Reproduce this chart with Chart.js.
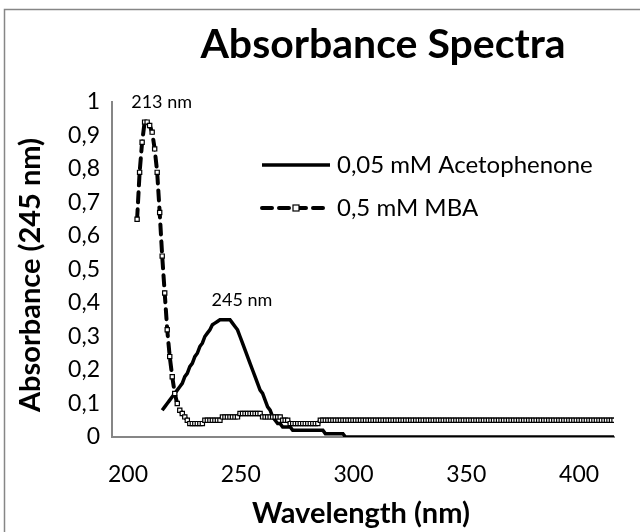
<!DOCTYPE html>
<html lang="en">
<head>
    <meta charset="UTF-8">
    <title>Absorbance Spectra</title>
    <script src="https://cdn.jsdelivr.net/npm/chart.js"></script>
    <style>
        body { margin: 0; background: #fff; }
        #spectraChart { display: block; }
    </style>
</head>
<body>
    <canvas id="spectraChart" width="640" height="532"></canvas>

    <script>
        // wavelength grid, 1 nm steps
        var wavelengths = [];
        for (var nm = 210; nm <= 400; nm++) wavelengths.push(nm);

        // 0,5 mM MBA absorbance, 210..400 nm
        var mbaValues = [
            0.65, 0.79, 0.88, 0.94, 0.94, 0.93, 0.91, 0.86, 0.79, 0.67,
            0.54, 0.43, 0.32, 0.24, 0.18, 0.13, 0.10, 0.08, 0.07, 0.06,
            0.05, 0.04, 0.04, 0.04, 0.04, 0.04, 0.04, 0.05, 0.05, 0.05,
            0.05, 0.05, 0.05, 0.05, 0.06, 0.06, 0.06, 0.06, 0.06, 0.06,
            0.06, 0.07, 0.07, 0.07, 0.07, 0.07, 0.07, 0.07, 0.07, 0.07,
            0.06, 0.06, 0.06, 0.06, 0.06, 0.06, 0.06, 0.06, 0.05, 0.05,
            0.05, 0.04, 0.04, 0.04, 0.04, 0.04, 0.04, 0.04, 0.04, 0.04,
            0.04, 0.04, 0.04, 0.05, 0.05, 0.05, 0.05, 0.05, 0.05, 0.05,
            0.05, 0.05, 0.05, 0.05, 0.05, 0.05, 0.05, 0.05, 0.05, 0.05,
            0.05, 0.05, 0.05, 0.05, 0.05, 0.05, 0.05, 0.05, 0.05, 0.05,
            0.05, 0.05, 0.05, 0.05, 0.05, 0.05, 0.05, 0.05, 0.05, 0.05,
            0.05, 0.05, 0.05, 0.05, 0.05, 0.05, 0.05, 0.05, 0.05, 0.05,
            0.05, 0.05, 0.05, 0.05, 0.05, 0.05, 0.05, 0.05, 0.05, 0.05,
            0.05, 0.05, 0.05, 0.05, 0.05, 0.05, 0.05, 0.05, 0.05, 0.05,
            0.05, 0.05, 0.05, 0.05, 0.05, 0.05, 0.05, 0.05, 0.05, 0.05,
            0.05, 0.05, 0.05, 0.05, 0.05, 0.05, 0.05, 0.05, 0.05, 0.05,
            0.05, 0.05, 0.05, 0.05, 0.05, 0.05, 0.05, 0.05, 0.05, 0.05,
            0.05, 0.05, 0.05, 0.05, 0.05, 0.05, 0.05, 0.05, 0.05, 0.05,
            0.05, 0.05, 0.05, 0.05, 0.05, 0.05, 0.05, 0.05, 0.05, 0.05,
            0.05
        ];

        // 0,05 mM Acetophenone absorbance, 210..400 nm (no reading below 220)
        var acetophenoneValues = [
            null, null, null, null, null, null, null, null, null, null,
            0.08, 0.09, 0.10, 0.11, 0.12, 0.13, 0.14, 0.15, 0.16, 0.18,
            0.19, 0.21, 0.22, 0.24, 0.25, 0.27, 0.28, 0.30, 0.31, 0.32,
            0.335, 0.34, 0.345, 0.35, 0.35, 0.35, 0.35, 0.35, 0.34, 0.33,
            0.32, 0.30, 0.28, 0.26, 0.24, 0.22, 0.20, 0.18, 0.16, 0.14,
            0.13, 0.11, 0.09, 0.08, 0.06, 0.05, 0.04, 0.04, 0.03, 0.03,
            0.03, 0.03, 0.02, 0.02, 0.02, 0.02, 0.02, 0.02, 0.02, 0.02,
            0.02, 0.02, 0.02, 0.02, 0.02, 0.01, 0.01, 0.01, 0.01, 0.01,
            0.01, 0.01, 0.01, 0, 0, 0, 0, 0, 0, 0,
            0, 0, 0, 0, 0, 0, 0, 0, 0, 0,
            0, 0, 0, 0, 0, 0, 0, 0, 0, 0,
            0, 0, 0, 0, 0, 0, 0, 0, 0, 0,
            0, 0, 0, 0, 0, 0, 0, 0, 0, 0,
            0, 0, 0, 0, 0, 0, 0, 0, 0, 0,
            0, 0, 0, 0, 0, 0, 0, 0, 0, 0,
            0, 0, 0, 0, 0, 0, 0, 0, 0, 0,
            0, 0, 0, 0, 0, 0, 0, 0, 0, 0,
            0, 0, 0, 0, 0, 0, 0, 0, 0, 0,
            0, 0, 0, 0, 0, 0, 0, 0, 0, 0,
            0
        ];

        var seriesNames = ['0,05 mM Acetophenone', '0,5 mM MBA'];
        var xTickLabels = [200, 250, 300, 350, 400];
        var yTickLabels = [0, 0.1, 0.2, 0.3, 0.4, 0.5, 0.6, 0.7, 0.8, 0.9, 1];
        var peakLabels = [
            { series: 1, wavelength: 213, text: '213 nm' },
            { series: 0, wavelength: 245, text: '245 nm' }
        ];

        var FONT = 'Lato, Carlito, Calibri, sans-serif';
        var AXIS_GRAY = '#868686';

        function toPoints(values) {
            return wavelengths.map(function (w, i) {
                return { x: w, y: values[i] };
            });
        }

        var textPlugin = {
            id: 'spectraText',
            beforeDraw: function (chart) {
                var ctx = chart.ctx;
                ctx.save();
                ctx.strokeStyle = AXIS_GRAY;
                ctx.lineWidth = 1.5;
                ctx.strokeRect(4.5, 9.5, 700, 600);
                ctx.restore();
            },
            afterDraw: function (chart) {
                var ctx = chart.ctx;
                var xs = chart.scales.x, ys = chart.scales.y;
                ctx.save();
                ctx.fillStyle = '#000';
                ctx.textAlign = 'center';
                ctx.textBaseline = 'middle';

                // chart title
                ctx.font = 'bold 41px ' + FONT;
                ctx.fillText('Absorbance Spectra', 383, 45);

                // axis titles
                ctx.font = 'bold 29px ' + FONT;
                ctx.fillText('Wavelength (nm)', 361, 514);
                ctx.save();
                ctx.translate(31, 275);
                ctx.rotate(-Math.PI / 2);
                ctx.fillText('Absorbance (245 nm)', 0, 0);
                ctx.restore();

                // peak labels
                ctx.font = '18px ' + FONT;
                peakLabels.forEach(function (p) {
                    var values = p.series === 0 ? acetophenoneValues : mbaValues;
                    var v = values[wavelengths.indexOf(p.wavelength)];
                    ctx.fillText(p.text, xs.getPixelForValue(p.wavelength) + 17, ys.getPixelForValue(v) - 20);
                });

                // legend
                var lx0 = 262, lx1 = 330, mid = 296;
                ctx.strokeStyle = '#000';
                ctx.lineWidth = 3.5;
                ctx.beginPath();
                ctx.moveTo(lx0, 165); ctx.lineTo(lx1, 165);
                ctx.stroke();

                ctx.lineWidth = 4;
                ctx.lineCap = 'round';
                ctx.setLineDash([10, 7]);
                ctx.beginPath();
                ctx.moveTo(lx0, 208); ctx.lineTo(lx1, 208);
                ctx.stroke();
                ctx.setLineDash([]);
                ctx.lineCap = 'butt';
                ctx.fillStyle = '#fff';
                ctx.lineWidth = 1.2;
                ctx.fillRect(mid - 3, 205, 6, 6);
                ctx.strokeRect(mid - 3, 205, 6, 6);

                ctx.fillStyle = '#000';
                ctx.textAlign = 'left';
                ctx.font = '24px ' + FONT;
                ctx.fillText(seriesNames[0], 337, 165);
                ctx.fillText(seriesNames[1], 337, 208);
                ctx.restore();
            }
        };

        var ctx = document.getElementById('spectraChart').getContext('2d');
        new Chart(ctx, {
            type: 'line',
            data: {
                datasets: [
                    {
                        label: seriesNames[0],
                        data: toPoints(acetophenoneValues),
                        borderColor: '#000',
                        borderWidth: 3.5,
                        pointRadius: 0,
                        tension: 0,
                        spanGaps: false,
                        order: 1
                    },
                    {
                        label: seriesNames[1],
                        data: toPoints(mbaValues),
                        borderColor: '#000',
                        borderWidth: 4,
                        borderDash: [10, 7],
                        borderCapStyle: 'round',
                        pointStyle: 'rect',
                        pointRadius: 3,
                        pointBackgroundColor: '#fff',
                        pointBorderColor: '#000',
                        pointBorderWidth: 1.2,
                        tension: 0,
                        order: 0
                    }
                ]
            },
            options: {
                responsive: false,
                animation: false,
                devicePixelRatio: 1,
                layout: { padding: { left: 0, right: 26, top: 102, bottom: 0 } },
                plugins: {
                    legend: { display: false },
                    tooltip: { enabled: false }
                },
                scales: {
                    x: {
                        type: 'linear',
                        position: 'bottom',
                        min: 200,
                        max: 400,
                        grid: { display: false, drawTicks: false },
                        border: { display: true, color: AXIS_GRAY, width: 2 },
                        ticks: { display: false }
                    },
                    // tick labels for the wavelength axis
                    xLabels: {
                        type: 'linear',
                        position: 'bottom',
                        min: 192.9,
                        max: 415.5,
                        grid: { display: false, drawTicks: false },
                        border: { display: false },
                        afterBuildTicks: function (s) {
                            s.ticks = xTickLabels.map(function (v) { return { value: v }; });
                        },
                        afterFit: function (s) { s.height = 95; },
                        ticks: {
                            padding: 24,
                            color: '#000',
                            font: { family: FONT, size: 23 },
                            callback: function (v) { return String(v); }
                        }
                    },
                    y: {
                        type: 'linear',
                        min: 0,
                        max: 1,
                        grid: { display: false, drawTicks: false },
                        border: { display: true, color: AXIS_GRAY, width: 2 },
                        afterBuildTicks: function (s) {
                            s.ticks = yTickLabels.map(function (v) { return { value: v }; });
                        },
                        afterFit: function (s) { s.width = 112; },
                        ticks: {
                            padding: 12,
                            color: '#000',
                            font: { family: FONT, size: 23 },
                            callback: function (v) {
                                return String(Math.round(v * 10) / 10).replace('.', ',');
                            }
                        }
                    }
                }
            },
            plugins: [textPlugin]
        });
    </script>
</body>
</html>
